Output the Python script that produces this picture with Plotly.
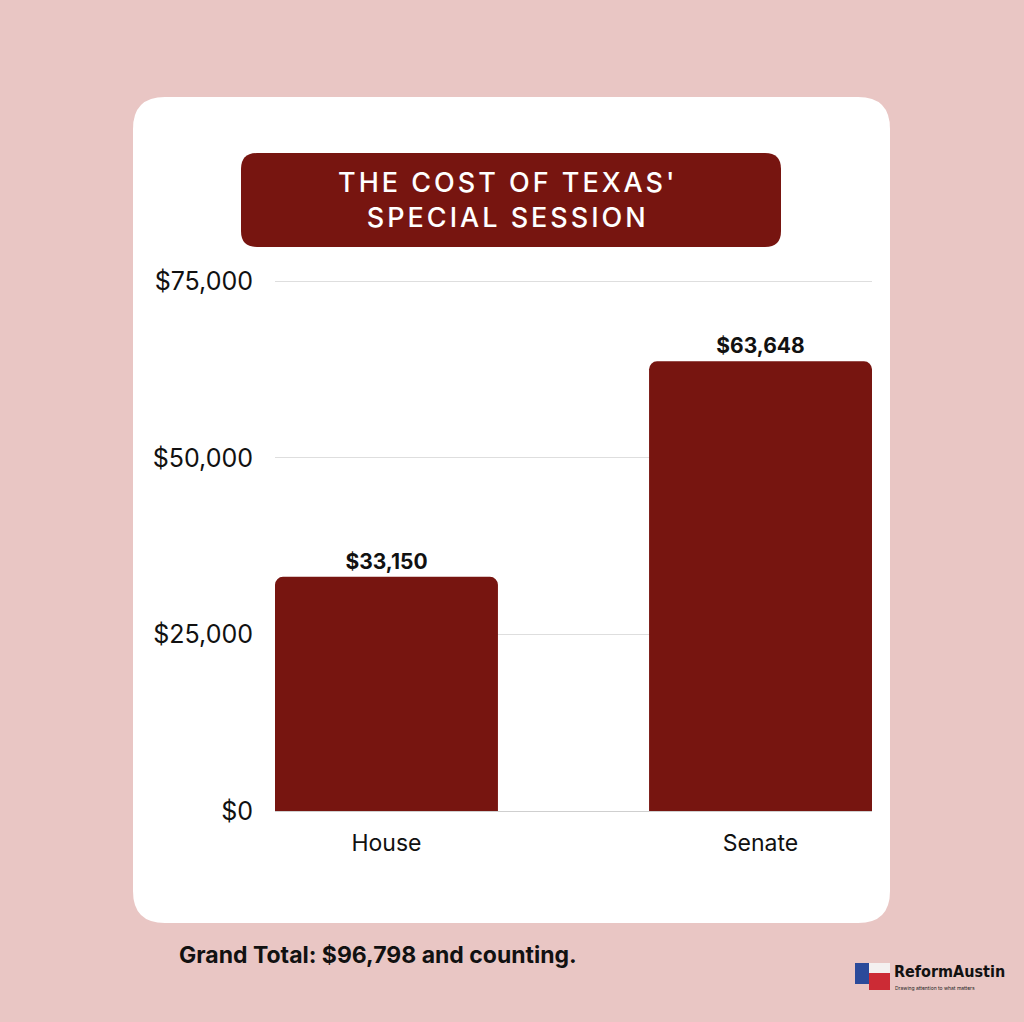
import plotly.graph_objects as go

categories = ["House", "Senate"]
costs = [33150, 63648]
y_ticks = [0, 25000, 50000, 75000]
y_tick_labels = ["$0", "$25,000", "$50,000", "$75,000"]
title_lines = ["THE COST OF TEXAS'", "SPECIAL SESSION"]
footer = "Grand Total: $96,798 and counting."

W, H = 1024, 1022
L, R, T, B = 275, 872, 279, 811
Y_MAX = 75300
BAR = "#771510"
BG = "#e9c6c4"
FONT = "Inter, 'DejaVu Sans', sans-serif"


def px(x):
    return (x - L) / (R - L)


def py(y):
    return (B - y) / (B - T)


def rounded_rect(x0, y0, x1, y1, r):
    return (
        f"M {px(x0 + r)},{py(y0)} L {px(x1 - r)},{py(y0)} "
        f"Q {px(x1)},{py(y0)} {px(x1)},{py(y0 + r)} "
        f"L {px(x1)},{py(y1 - r)} Q {px(x1)},{py(y1)} {px(x1 - r)},{py(y1)} "
        f"L {px(x0 + r)},{py(y1)} Q {px(x0)},{py(y1)} {px(x0)},{py(y1 - r)} "
        f"L {px(x0)},{py(y0 + r)} Q {px(x0)},{py(y0)} {px(x0 + r)},{py(y0)} Z"
    )


fig = go.Figure()
fig.add_trace(go.Bar(
    x=categories, y=costs,
    marker=dict(color=BAR, cornerradius=8, line=dict(width=0)),
    texttemplate="$%{y:,}", textposition="outside",
    textfont=dict(family=FONT, size=21, color="#111111", weight="bold"),
    cliponaxis=False, hoverinfo="skip",
))

shapes = [
    dict(type="path", xref="paper", yref="paper", layer="below",
         path=rounded_rect(133, 97, 890, 923, 32),
         fillcolor="white", line=dict(width=0)),
    dict(type="path", xref="paper", yref="paper", layer="below",
         path=rounded_rect(241, 153, 781, 247, 16),
         fillcolor=BAR, line=dict(width=0)),
    # small flag-like logo mark
    dict(type="rect", xref="paper", yref="paper", layer="above",
         x0=px(855), x1=px(869), y0=py(963), y1=py(984),
         fillcolor="#2b4a9a", line=dict(width=0)),
    dict(type="rect", xref="paper", yref="paper", layer="above",
         x0=px(869), x1=px(890), y0=py(963), y1=py(973),
         fillcolor="#f4f0f0", line=dict(width=0)),
    dict(type="rect", xref="paper", yref="paper", layer="above",
         x0=px(869), x1=px(890), y0=py(973), y1=py(990),
         fillcolor="#cc2b35", line=dict(width=0)),
]

annotations = [
    dict(xref="paper", yref="paper", x=px(508), y=py(200),
         text="<br>".join(title_lines), showarrow=False,
         font=dict(family=FONT, size=27, color="white", weight=500),
         align="center", xanchor="center", yanchor="middle"),
    dict(xref="paper", yref="paper", x=px(177), y=py(955),
         text=f"<b>{footer}</b>", showarrow=False,
         font=dict(family=FONT, size=23, color="#111111"),
         xanchor="left", yanchor="middle"),
    dict(xref="paper", yref="paper", x=px(892), y=py(971),
         text="<b>ReformAustin</b>", showarrow=False,
         font=dict(family="'DejaVu Sans Condensed', 'Liberation Sans Narrow', sans-serif", size=16, color="#111111"),
         xanchor="left", yanchor="middle"),
    dict(xref="paper", yref="paper", x=px(893), y=py(988),
         text="Drawing attention to what matters", showarrow=False,
         font=dict(family=FONT, size=5, color="#222222"),
         xanchor="left", yanchor="middle"),
]

fig.update_layout(
    width=W, height=H,
    margin=dict(l=L, r=W - R, t=T, b=H - B, pad=0),
    paper_bgcolor=BG, plot_bgcolor="rgba(0,0,0,0)",
    bargap=0.404, showlegend=False,
    shapes=shapes, annotations=annotations,
    font=dict(family=FONT, color="#111111"),
)
fig.update_xaxes(
    range=[-0.298, 1.298], showgrid=False, showline=False, zeroline=False,
    ticks="", ticklabelstandoff=16,
    tickfont=dict(family=FONT, size=23, color="#111111"),
)
fig.update_yaxes(
    range=[0, Y_MAX], tickmode="array", tickvals=y_ticks, ticktext=y_tick_labels,
    showgrid=True, gridcolor="#dedede", gridwidth=1,
    zeroline=True, zerolinecolor="#cfcfcf", zerolinewidth=1,
    showline=False, ticks="", ticklabelstandoff=21,
    tickfont=dict(family=FONT, size=25, color="#111111"),
)

post = """
document.body.style.margin = '0px';
document.querySelectorAll('text.annotation-text').forEach(function (t) {
  if ((t.textContent || '').indexOf('THE COST') === 0) { t.style.letterSpacing = '3px'; }
});
"""

fig.write_html("out.html", post_script=post, config={"displayModeBar": False})
